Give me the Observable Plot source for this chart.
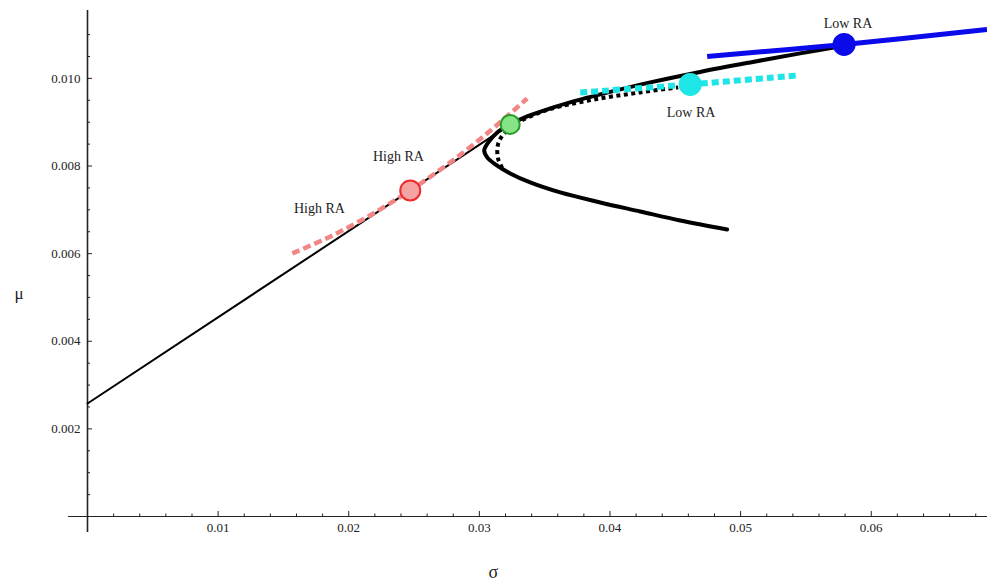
<!DOCTYPE html>
<html><head><meta charset="utf-8">
<script src="https://cdn.jsdelivr.net/npm/d3@7"></script>
<script src="https://cdn.jsdelivr.net/npm/@observablehq/plot@0.6"></script>
<style>body{margin:0;background:#fff} svg{display:block}</style>
</head><body><div id="chart"></div>
<script>
// Axis ticks
const xMajorTicks = [0.01, 0.02, 0.03, 0.04, 0.05, 0.06];
const xMinorTicks = [0.002,0.004,0.006,0.008,0.012,0.014,0.016,0.018,0.022,0.024,0.026,0.028,0.032,0.034,0.036,0.038,0.042,0.044,0.046,0.048,0.052,0.054,0.056,0.058,0.062,0.064,0.066,0.068];
const yMajorTicks = [0.002, 0.004, 0.006, 0.008, 0.010];
const yMinorTicks = [0.0005,0.001,0.0015,0.0025,0.003,0.0035,0.0045,0.005,0.0055,0.0065,0.007,0.0075,0.0085,0.009,0.0095,0.0105,0.011];

// Capital market line (thin black)
const cmlSigma = [0, 0.03236];
const cmlMu = [0.00258, 0.00895];

// Solid efficient frontier (thick black)
const frontSigma = [0.04897,0.04537,0.04231,0.03925,0.03619,0.03389,0.03236,0.03122,0.03060,0.03037,0.03068,0.03137,0.03236,0.03366,0.03542,0.03734,0.03925,0.04308,0.04690,0.05073,0.05455,0.05800];
const frontMu    = [0.006553,0.006758,0.006963,0.007169,0.007397,0.007626,0.007831,0.008037,0.008196,0.008356,0.008539,0.008767,0.008950,0.009132,0.009315,0.009486,0.009635,0.009909,0.010148,0.010365,0.010571,0.010753];

// Dotted frontier (black dotted)
const dotSigma = [0.03175,0.03145,0.03137,0.03145,0.03175,0.03230,0.03313,0.03466,0.03619,0.03925,0.04231,0.04522];
const dotMu    = [0.007950,0.008150,0.008330,0.008520,0.008690,0.008850,0.009025,0.009224,0.009361,0.009543,0.009680,0.009795];

// Indifference curves / tangent lines
const redSigma = [0.01568, 0.01859, 0.02165, 0.02471, 0.02777, 0.03083, 0.03366];
const redMu    = [0.006005, 0.006393, 0.006877, 0.007443, 0.008082, 0.008804, 0.009541];
const cyanSigma = [0.03772, 0.04614, 0.05440];
const cyanMu    = [0.009680, 0.009863, 0.010068];
const blueSigma = [0.04744, 0.05792, 0.06886];
const blueMu    = [0.010502, 0.010776, 0.011119];

// Points
const pointNames = ["red", "green", "cyan", "blue"];
const pointSigma = [0.02471, 0.03236, 0.04614, 0.05792];
const pointMu = [0.007443, 0.008950, 0.009863, 0.010776];

// Annotations
const noteText = ["High RA", "High RA", "Low RA", "Low RA"];
const noteSigma = [0.01775, 0.02380, 0.05822, 0.04621];
const noteMu = [0.007032, 0.008219, 0.011256, 0.009224];

const rows = (xs, ys) => xs.map((x, i) => ({x, y: ys[i]}));
const points = pointNames.map((n, i) => ({n, x: pointSigma[i], y: pointMu[i]}));
const notes = noteText.map((t, i) => ({t, x: noteSigma[i], y: noteMu[i]}));

const fillMap = {red: "#f5a3a3", green: "#86e486", cyan: "#1ee6e6", blue: "#0a0aea"};
const strokeMap = {red: "#ee2a2a", green: "#2a9a2a", cyan: "#1ee6e6", blue: "#0a0aea"};
const rMap = {red: 10, green: 9.5, cyan: 10.5, blue: 10.5};

const serif = "'Liberation Serif', 'Times New Roman', serif";

const chart = Plot.plot({
  width: 987,
  height: 585,
  marginLeft: 87,
  marginRight: 0,
  marginTop: 10,
  marginBottom: 69,
  style: {fontFamily: serif, fontSize: "13px", background: "#fff", color: "#222"},
  x: {domain: [0, 0.0689]},
  y: {domain: [0, 0.01155]},
  r: {type: "identity"},
  marks: [
    // axis lines
    Plot.ruleY([0], {x1: -0.00145, x2: 0.0689, stroke: "#222", strokeWidth: 1.2}),
    Plot.ruleX([0], {y1: -0.000365, y2: 0.01155, stroke: "#222", strokeWidth: 1.6}),
    // ticks
    Plot.ruleX(xMinorTicks, {y1: 0, y2: 0, insetTop: 0, insetBottom: 2.5, stroke: "#222"}),
    Plot.ruleX(xMajorTicks, {y1: 0, y2: 0, insetTop: 0, insetBottom: 5, stroke: "#222"}),
    Plot.ruleY(yMinorTicks, {x1: 0, x2: 0, insetLeft: 3, insetRight: 0, stroke: "#222"}),
    Plot.ruleY(yMajorTicks, {x1: 0, x2: 0, insetLeft: 5, insetRight: 0, stroke: "#222"}),
    Plot.axisX({ticks: xMajorTicks, tickSize: 0, tickPadding: 6, tickFormat: d3.format(".2f"), label: null, fontSize: 13}),
    Plot.axisY({ticks: yMajorTicks, tickSize: 0, tickPadding: 7, tickFormat: d3.format(".3f"), label: null, fontSize: 13}),
    // axis titles
    Plot.text(["σ"], {frameAnchor: "bottom-left", dx: 401, dy: 61, fontSize: 18}),
    Plot.text(["μ"], {frameAnchor: "left", dx: -73, dy: 30, fontSize: 17}),
    // curves
    Plot.line(rows(cmlSigma, cmlMu), {x: "x", y: "y", stroke: "#000", strokeWidth: 2}),
    Plot.line(rows(frontSigma, frontMu), {x: "x", y: "y", stroke: "#000", strokeWidth: 4, curve: "catmull-rom"}),
    Plot.line(rows(dotSigma, dotMu), {x: "x", y: "y", stroke: "#000", strokeWidth: 4, strokeDasharray: "4,3.5", strokeLinecap: "butt", curve: "catmull-rom"}),
    Plot.line(rows(redSigma, redMu), {x: "x", y: "y", stroke: "#f28686", strokeWidth: 4.5, strokeDasharray: "8,4", strokeLinecap: "butt", curve: "catmull-rom"}),
    Plot.line(rows(cyanSigma, cyanMu), {x: "x", y: "y", stroke: "#1ee6e6", strokeWidth: 6, strokeDasharray: "7,4", strokeLinecap: "butt", curve: "catmull-rom"}),
    Plot.line(rows(blueSigma, blueMu), {x: "x", y: "y", stroke: "#0a0aea", strokeWidth: 5, strokeLinecap: "butt", curve: "catmull-rom"}),
    // points
    Plot.dot(points, {x: "x", y: "y", r: d => rMap[d.n], fill: d => fillMap[d.n], stroke: d => strokeMap[d.n], strokeWidth: 2}),
    // annotations
    Plot.text(notes, {x: "x", y: "y", text: "t", fontSize: 14, fill: "#222"})
  ]
});
document.getElementById("chart").append(chart);
</script>
</body></html>
